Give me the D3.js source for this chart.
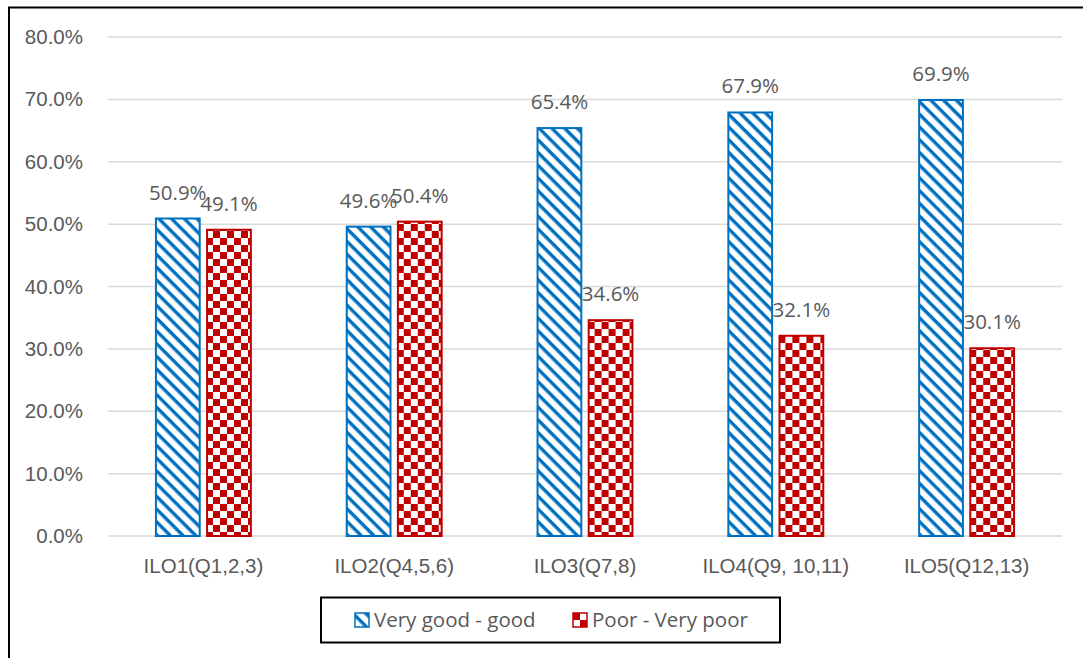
<!DOCTYPE html>
<html>
<head>
<meta charset="utf-8">
<script src="https://cdn.jsdelivr.net/npm/d3@7"></script>
<style>
  html, body { margin: 0; padding: 0; background: #fff; }
  svg { display: block; font-family: "Open Sans", "Liberation Sans", sans-serif; }
</style>
</head>
<body>
<script>
const categories = ["ILO1(Q1,2,3)", "ILO2(Q4,5,6)", "ILO3(Q7,8)", "ILO4(Q9, 10,11)", "ILO5(Q12,13)"];
const seriesNames = ["Very good - good", "Poor - Very poor"];
const goodValues = [50.9, 49.6, 65.4, 67.9, 69.9];
const poorValues = [49.1, 50.4, 34.6, 32.1, 30.1];
const yTicks = [0, 10, 20, 30, 40, 50, 60, 70, 80];

const W = 1083, H = 658;
const margin = { left: 108, right: 21, top: 37, bottom: 122 };
const fontSize = "20.5px";

const svg = d3.select("body").append("svg")
    .attr("width", W)
    .attr("height", H);

const defs = svg.append("defs");
// blue wide downward diagonal
const stripes = defs.append("pattern")
    .attr("id", "stripes")
    .attr("patternUnits", "userSpaceOnUse")
    .attr("width", 9)
    .attr("height", 9)
    .attr("patternTransform", "rotate(45)");
stripes.append("rect").attr("width", 9).attr("height", 9).attr("fill", "#fff");
stripes.append("rect").attr("width", 9).attr("height", 3.4).attr("fill", "#0070C0");

// red checkerboard
const checks = defs.append("pattern")
    .attr("id", "checks")
    .attr("patternUnits", "userSpaceOnUse")
    .attr("width", 14)
    .attr("height", 14);
checks.append("rect").attr("width", 14).attr("height", 14).attr("fill", "#fff");
checks.append("rect").attr("width", 7).attr("height", 7).attr("fill", "#C00000");
checks.append("rect").attr("x", 7).attr("y", 7).attr("width", 7).attr("height", 7).attr("fill", "#C00000");

// chart border (left and top visible)
svg.append("rect")
    .attr("x", 9).attr("y", 7.5)
    .attr("width", W + 20).attr("height", H + 20)
    .attr("fill", "none")
    .attr("stroke", "#000")
    .attr("stroke-width", 2);

const x = d3.scaleBand()
    .domain(categories)
    .range([margin.left, W - margin.right]);
const y = d3.scaleLinear()
    .domain([0, 80])
    .range([H - margin.bottom, margin.top]);

const inner = d3.scaleBand()
    .domain(seriesNames)
    .range([x.bandwidth() * 0.246, x.bandwidth() * 0.754])
    .paddingInner(0.105);

// grid
svg.append("g")
    .selectAll("line")
    .data(yTicks)
    .join("line")
    .attr("x1", margin.left)
    .attr("x2", W - margin.right)
    .attr("y1", d => y(d))
    .attr("y2", d => y(d))
    .attr("stroke", "#D9D9D9")
    .attr("stroke-width", 1.5);

const yAxis = svg.append("g")
    .attr("transform", `translate(${margin.left - 22},0)`)
    .call(d3.axisLeft(y).tickValues(yTicks).tickSize(0).tickFormat(d => d.toFixed(1) + "%"));
yAxis.select(".domain").remove();
yAxis.selectAll("text")
    .attr("fill", "#595959")
    .style("font-size", fontSize);

const xAxis = svg.append("g")
    .attr("transform", `translate(0,${H - margin.bottom + 19})`)
    .call(d3.axisBottom(x).tickSize(0));
xAxis.select(".domain").remove();
xAxis.selectAll("text")
    .attr("fill", "#595959")
    .attr("dy", "0.71em")
    .style("font-size", fontSize);

const rows = categories.map((c, i) => ({ cat: c, vals: [goodValues[i], poorValues[i]] }));
const fills = ["url(#stripes)", "url(#checks)"];
const strokes = ["#0070C0", "#C00000"];

const groups = svg.append("g")
    .selectAll("g")
    .data(rows)
    .join("g")
    .attr("transform", d => `translate(${x(d.cat)},0)`);

groups.selectAll("rect")
    .data(d => d.vals.map((v, j) => ({ v, j })))
    .join("rect")
    .attr("x", d => inner(seriesNames[d.j]) + 1)
    .attr("y", d => y(d.v))
    .attr("width", inner.bandwidth() - 2)
    .attr("height", d => y(0) - y(d.v))
    .attr("fill", d => fills[d.j])
    .attr("stroke", d => strokes[d.j])
    .attr("stroke-width", 2);

groups.selectAll("text")
    .data(d => d.vals.map((v, j) => ({ v, j })))
    .join("text")
    .attr("x", d => inner(seriesNames[d.j]) + inner.bandwidth() / 2)
    .attr("y", d => y(d.v) - 19)
    .attr("text-anchor", "middle")
    .attr("fill", "#595959")
    .style("font-size", fontSize)
    .text(d => d.v.toFixed(1) + "%");

// legend
const legend = svg.append("g");
legend.append("rect")
    .attr("x", 321).attr("y", 597.5)
    .attr("width", 459).attr("height", 45)
    .attr("fill", "#fff")
    .attr("stroke", "#000")
    .attr("stroke-width", 2);
const legendX = [355, 573];
const items = legend.selectAll("g.item")
    .data(seriesNames)
    .join("g")
    .attr("class", "item")
    .attr("transform", (d, i) => `translate(${legendX[i]},613)`);
items.append("rect")
    .attr("width", 14).attr("height", 14)
    .attr("fill", (d, i) => fills[i])
    .attr("stroke", (d, i) => strokes[i])
    .attr("stroke-width", 1.5);
items.append("text")
    .attr("x", 19)
    .attr("y", 7)
    .attr("dy", "0.35em")
    .attr("fill", "#595959")
    .style("font-size", fontSize)
    .text(d => d);
</script>
</body>
</html>
